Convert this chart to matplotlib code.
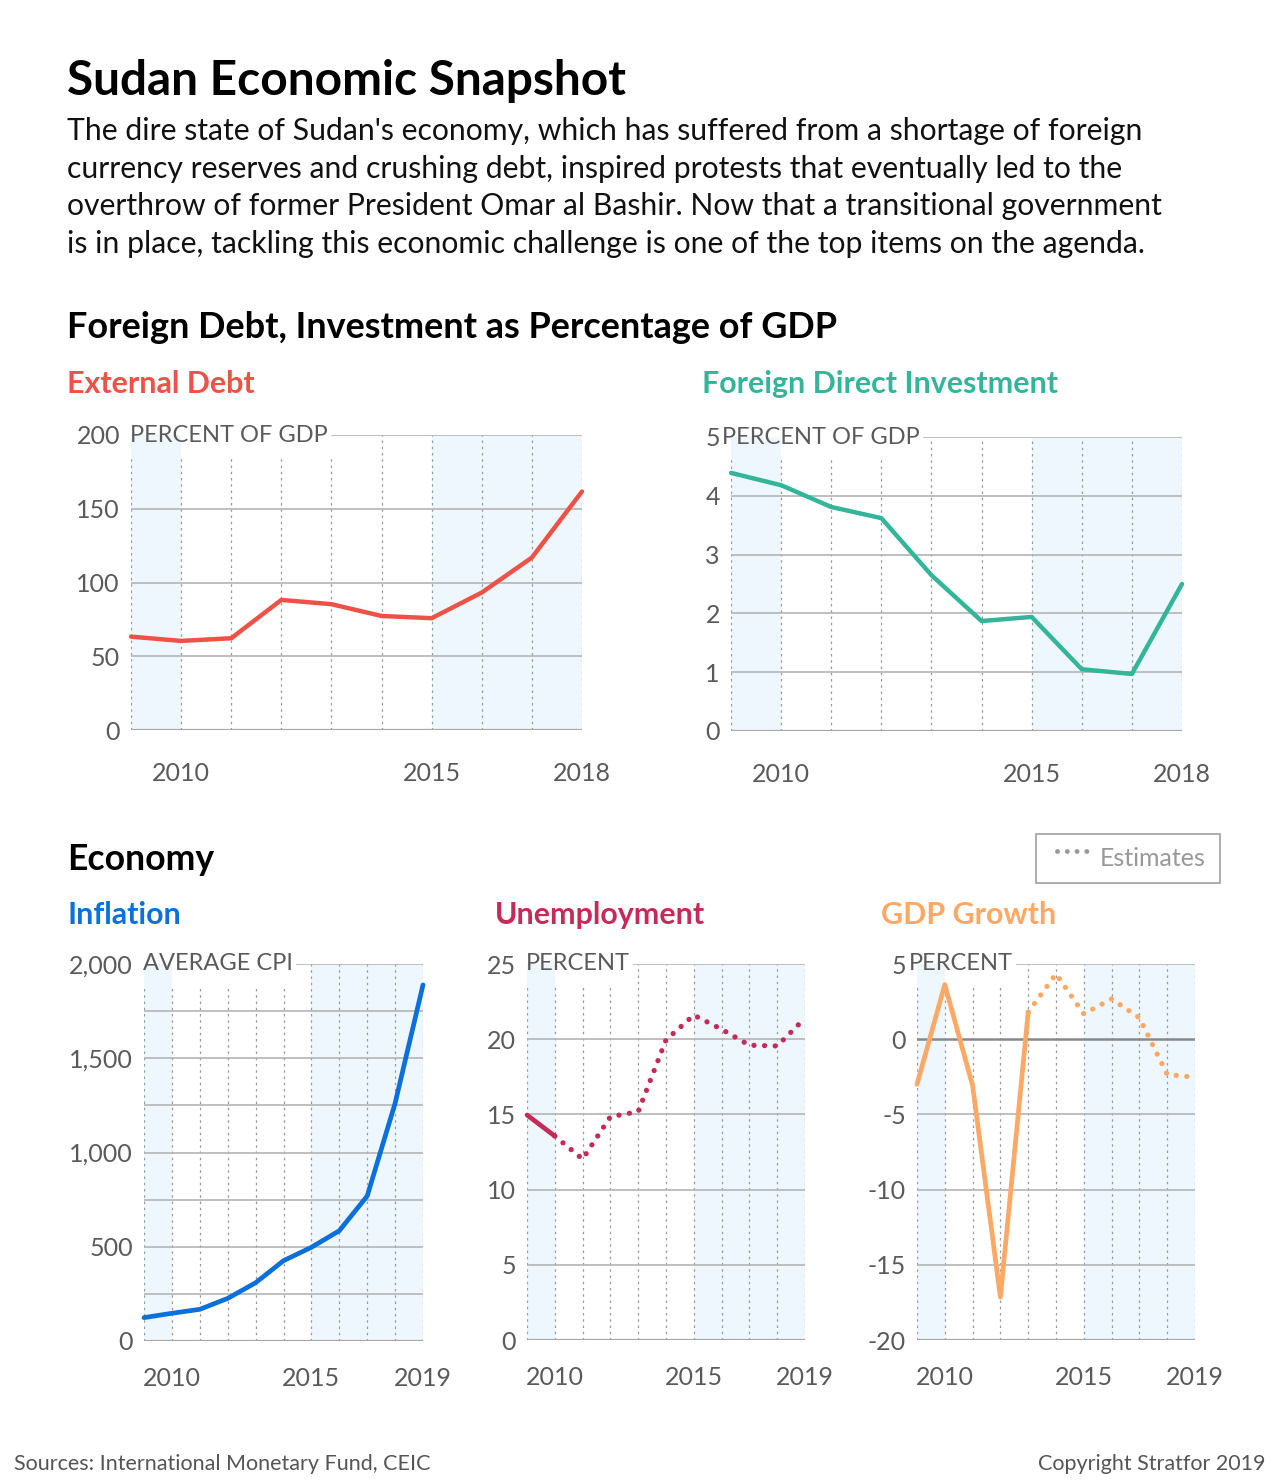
import matplotlib
matplotlib.use('Agg')
import matplotlib.pyplot as plt
from matplotlib.patches import Rectangle
from matplotlib.lines import Line2D

plt.rcParams['font.family'] = ['Lato', 'DejaVu Sans']

W, H = 1280, 1483

# ---- data ----
debt_years = [2009, 2010, 2011, 2012, 2013, 2014, 2015, 2016, 2017, 2018]
external_debt = [63.3, 60.4, 62.2, 88.2, 85.3, 77.3, 75.8, 93.2, 116.9, 161.7]
fdi = [4.39, 4.18, 3.81, 3.62, 2.65, 1.87, 1.94, 1.05, 0.97, 2.50]

eco_years = [2009, 2010, 2011, 2012, 2013, 2014, 2015, 2016, 2017, 2018, 2019]
inflation_cpi = [124, 147, 168, 226, 309, 426, 497, 585, 769, 1261, 1889]
unemployment = [14.96, 13.56, 12.03, 14.85, 15.18, 19.95, 21.6, 20.66, 19.6, 19.55, 21.4]
unemp_last_actual = 2010
gdp_growth = [-3.0, 3.63, -3.08, -17.15, 1.8, 4.34, 1.68, 2.68, 1.42, -2.35, -2.53]
gdp_last_actual = 2013

RED = '#EE5246'
TEAL = '#33B59A'
BLUE = '#0B6FDC'
CRIMSON = '#C62A59'
ORANGE = '#FDA865'
SHADE = '#EFF7FE'
TICK = '#5a5a5a'
GRID = '#b4b4b4'

fig = plt.figure(figsize=(W / 100, H / 100), dpi=100)
renderer = fig.canvas.get_renderer()


def fx(px):
    return px / W


def fy(py):
    return 1 - py / H


def add_ax(l, r, t, b):
    return fig.add_axes([fx(l), fy(b), (r - l) / W, (b - t) / H])


def style_ax(ax, years, ylim, yticks, ylabels, xticks, unit, shade_end,
             unit_dx=-1, xpad=23, minor=None, zero_line=False):
    ax.set_xlim(years[0], years[-1])
    ax.set_ylim(*ylim)
    for s in ax.spines.values():
        s.set_visible(False)
    ax.axvspan(2009, 2010, color=SHADE, lw=0, zorder=0)
    ax.axvspan(2015, shade_end, color=SHADE, lw=0, zorder=0)

    # unit label next to the top tick
    bb_ax = ax.get_window_extent(renderer)
    txt = ax.text(unit_dx / bb_ax.width, 1.0, unit, transform=ax.transAxes,
                  ha='left', va='center', fontsize=17, color=TICK, zorder=5)
    tb = txt.get_window_extent(renderer).transformed(ax.transAxes.inverted())
    x_end = tb.x1 + 4 / bb_ax.width
    cut = 1 - 21 / bb_ax.height

    span = years[-1] - years[0]
    for yr in years:
        frac = (yr - years[0]) / span
        top = cut if frac < x_end else 1
        ax.axvline(yr, ymax=top, color='#9a9a9a', lw=0.9, ls=(0, (2, 3)), zorder=1)

    grid_vals = minor if minor is not None else yticks
    for v in grid_vals:
        c, lw = GRID, 1.2
        if zero_line and v == 0:
            c, lw = '#888888', 1.8
        if v == ylim[0]:
            c, lw = '#a8a8a8', 1.6
        if v == ylim[1]:
            ax.axhline(v, xmin=x_end, color=c, lw=lw, zorder=1)
        else:
            ax.axhline(v, color=c, lw=lw, zorder=1)
    ax.set_yticks(yticks)
    ax.set_yticklabels(ylabels)
    ax.set_xticks(xticks)
    ax.set_xticklabels([str(x) for x in xticks])
    ax.tick_params(axis='both', length=0, labelsize=18, labelcolor=TICK)
    ax.tick_params(axis='y', pad=8)
    ax.tick_params(axis='x', pad=xpad)


# ---- header text ----
fig.text(fx(67), fy(95), 'Sudan Economic Snapshot', fontsize=34.4, fontweight='bold', color='black')
body = ["The dire state of Sudan's economy, which has suffered from a shortage of foreign",
        "currency reserves and crushing debt, inspired protests that eventually led to the",
        "overthrow of former President Omar al Bashir. Now that a transitional government",
        "is in place, tackling this economic challenge is one of the top items on the agenda."]
for i, line in enumerate(body):
    fig.text(fx(67), fy(140 + i * 37.6), line, fontsize=21.7, color='#111111')

fig.text(fx(67), fy(338), 'Foreign Debt, Investment as Percentage of GDP', fontsize=25.9, fontweight='bold')
fig.text(fx(67), fy(393), 'External Debt', fontsize=21.9, fontweight='bold', color=RED)
fig.text(fx(702), fy(393), 'Foreign Direct Investment', fontsize=21.9, fontweight='bold', color=TEAL)

fig.text(fx(67), fy(870), 'Economy', fontsize=25.6, fontweight='bold')
fig.text(fx(67), fy(924), 'Inflation', fontsize=21.9, fontweight='bold', color=BLUE)
fig.text(fx(495), fy(924), 'Unemployment', fontsize=21.9, fontweight='bold', color=CRIMSON)
fig.text(fx(881), fy(924), 'GDP Growth', fontsize=21.9, fontweight='bold', color=ORANGE)

# legend box
fig.add_artist(Rectangle((fx(1036), fy(883)), (1220 - 1036) / W, (883 - 834) / H,
                         transform=fig.transFigure, fc='white', ec='#a0a0a0', lw=1.2))
fig.add_artist(Line2D([fx(1057), fx(1090)], [fy(851), fy(851)], transform=fig.transFigure,
                      color='#999999', lw=3.5, ls=(0, (0.01, 2)), dash_capstyle='round'))
fig.text(fx(1100), fy(866), 'Estimates', fontsize=18, color='#999999')

fig.text(fx(14), fy(1470), 'Sources: International Monetary Fund, CEIC', fontsize=15.5, color='#555555')
fig.text(fx(1266), fy(1470), 'Copyright Stratfor 2019', fontsize=15.5, color='#555555', ha='right')

# ---- External debt ----
ax1 = add_ax(131, 582, 435, 730)
style_ax(ax1, debt_years, (0, 200), [0, 50, 100, 150, 200], ['0', '50', '100', '150', '200'],
         [2010, 2015, 2018], 'PERCENT OF GDP', 2018, unit_dx=-1)
ax1.plot(debt_years, external_debt, color=RED, lw=3.2, zorder=4, clip_on=False, solid_capstyle='round')

# ---- FDI ----
ax2 = add_ax(731, 1182, 437, 731)
style_ax(ax2, debt_years, (0, 5), [0, 1, 2, 3, 4, 5], ['0', '1', '2', '3', '4', '5'],
         [2010, 2015, 2018], 'PERCENT OF GDP', 2018, unit_dx=-9)
ax2.plot(debt_years, fdi, color=TEAL, lw=3.2, zorder=4, clip_on=False, solid_capstyle='round')

# ---- Inflation ----
ax3 = add_ax(144, 423, 964, 1341)
style_ax(ax3, eco_years, (0, 2000), [0, 500, 1000, 1500, 2000],
         ['0', '500', '1,000', '1,500', '2,000'], [2010, 2015, 2019], 'AVERAGE CPI', 2019,
         unit_dx=-1, xpad=19, minor=[0, 250, 500, 750, 1000, 1250, 1500, 1750, 2000])
ax3.plot(eco_years, inflation_cpi, color=BLUE, lw=3.4, zorder=4, clip_on=False, solid_capstyle='round')

# ---- Unemployment ----
ax4 = add_ax(527, 805, 964, 1340)
style_ax(ax4, eco_years, (0, 25), [0, 5, 10, 15, 20, 25], ['0', '5', '10', '15', '20', '25'],
         [2010, 2015, 2019], 'PERCENT', 2019, unit_dx=-1, xpad=19)
k = eco_years.index(unemp_last_actual)
ax4.plot(eco_years[:k + 1], unemployment[:k + 1], color=CRIMSON, lw=3.4, zorder=4,
         clip_on=False, solid_capstyle='round')
ax4.plot(eco_years[k:], unemployment[k:], color=CRIMSON, lw=3.8, zorder=4, clip_on=False,
         ls=(0, (0.01, 2.0)), dash_capstyle='round')

# ---- GDP growth ----
ax5 = add_ax(917, 1195, 964, 1340)
style_ax(ax5, eco_years, (-20, 5), [-20, -15, -10, -5, 0, 5],
         ['-20', '-15', '-10', '-5', '0', '5'], [2010, 2015, 2019], 'PERCENT', 2019,
         unit_dx=-8, xpad=19, zero_line=True)
k = eco_years.index(gdp_last_actual)
ax5.plot(eco_years[:k + 1], gdp_growth[:k + 1], color=ORANGE, lw=3.4, zorder=4,
         clip_on=False, solid_capstyle='round')
ax5.plot(eco_years[k:], gdp_growth[k:], color=ORANGE, lw=3.8, zorder=4, clip_on=False,
         ls=(0, (0.01, 2.0)), dash_capstyle='round')

fig.savefig('out.png', dpi=100)
